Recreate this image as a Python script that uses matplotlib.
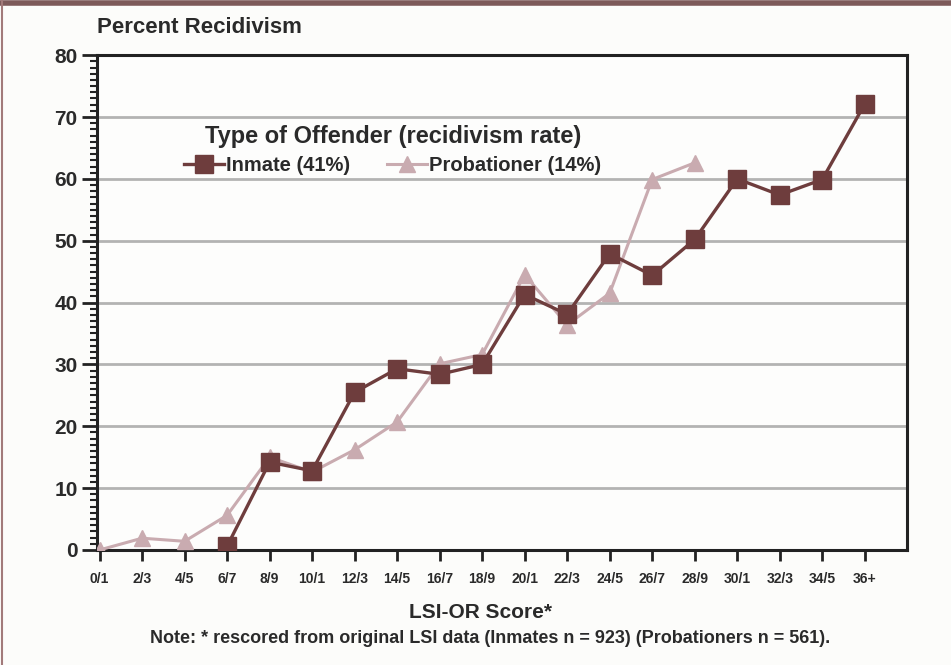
import matplotlib
matplotlib.use("Agg")
import matplotlib.pyplot as plt
from matplotlib import font_manager
from matplotlib.lines import Line2D
from matplotlib.ticker import MultipleLocator

# ---- data ----
categories = ["0/1", "2/3", "4/5", "6/7", "8/9", "10/1", "12/3", "14/5", "16/7",
              "18/9", "20/1", "22/3", "24/5", "26/7", "28/9", "30/1", "32/3",
              "34/5", "36+"]
inmate_cats = categories[3:]
inmate_vals = [0.6, 14.2, 12.8, 25.5, 29.3, 28.4, 30.0, 41.3, 38.1, 47.9,
               44.4, 50.2, 60.0, 57.4, 59.9, 72.1]
prob_cats = categories[:15]
prob_vals = [0.0, 1.9, 1.4, 5.6, 15.0, 12.6, 16.2, 20.7, 30.1, 31.6, 44.5,
             36.4, 41.5, 59.9, 62.6]

inmate_label = "Inmate (41%)"
prob_label = "Probationer (14%)"
legend_title = "Type of Offender (recidivism rate)"
y_title = "Percent Recidivism"
x_title = "LSI-OR Score*"
note = "Note: * rescored from original LSI data (Inmates n = 923) (Probationers n = 561)."

# ---- fonts ----
avail = {f.name for f in font_manager.fontManager.ttflist}
fam = "Liberation Sans Narrow" if "Liberation Sans Narrow" in avail else "Liberation Sans"
plt.rcParams["font.family"] = [fam, "DejaVu Sans"]
plt.rcParams["font.weight"] = "bold"

inmate_c = "#6e3d3d"
prob_c = "#c9abb0"
text_c = "#2a2a2a"

fig = plt.figure(figsize=(9.51, 6.65), dpi=100, facecolor="#fcfcfa")
ax = fig.add_axes([0.102, 0.173, 0.852, 0.744])
ax.set_facecolor("#fdfdfc")

xpos = {c: i for i, c in enumerate(categories)}
ax.plot([xpos[c] for c in prob_cats], prob_vals, color=prob_c, lw=2.2,
        marker="^", markersize=12, zorder=3, label=prob_label)
ax.plot([xpos[c] for c in inmate_cats], inmate_vals, color=inmate_c, lw=2.4,
        marker="s", markersize=13, zorder=4, label=inmate_label)

ax.set_xlim(-0.06, 19.0)
ax.set_ylim(0, 80)
ax.set_xticks(range(len(categories)))
ax.set_xticklabels(categories, fontsize=10, fontweight="bold", color=text_c)
ax.set_yticks(range(0, 81, 10))
ax.set_yticklabels([str(v) for v in range(0, 81, 10)], fontsize=15,
                   fontweight="bold", color=text_c)
ax.yaxis.set_minor_locator(MultipleLocator(1))
ax.tick_params(axis="y", which="major", length=11, width=2, color="#222222", pad=3)
ax.tick_params(axis="y", which="minor", length=5, width=1.5, color="#222222")
ax.tick_params(axis="x", which="major", length=8, width=2, color="#222222", pad=8)

for v in range(10, 80, 10):
    ax.axhline(v, color="#b3b3b3", lw=2, zorder=1)

for s in ax.spines.values():
    s.set_linewidth(2.2)
    s.set_color("#222222")

fig.text(0.102, 0.958, y_title, fontsize=16, fontweight="bold", color=text_c,
         va="center", ha="left")
fig.text(0.505, 0.079, x_title, fontsize=15, fontweight="bold", color=text_c,
         ha="center", va="center")
fig.text(0.515, 0.040, note, fontsize=13, fontweight="bold", color=text_c,
         ha="center", va="center")

handles = [Line2D([], [], color=inmate_c, lw=2.4, marker="s", markersize=13),
           Line2D([], [], color=prob_c, lw=2.2, marker="^", markersize=12)]
leg = ax.legend(handles, [inmate_label, prob_label], ncol=2, frameon=False,
                title=legend_title, loc="center", bbox_to_anchor=(0.365, 0.808),
                prop={"size": 14.5, "weight": "bold"}, handlelength=2.0,
                handletextpad=0.1, columnspacing=1.8, borderpad=0.2,
                labelspacing=0.2)
leg._legend_box.sep = 6
leg.get_title().set_fontsize(17)
leg.get_title().set_fontweight("bold")
leg.get_title().set_color(text_c)
for t in leg.get_texts():
    t.set_color(text_c)

# border decoration
fig.add_artist(Line2D([0, 1], [0.996, 0.996], transform=fig.transFigure,
                      color="#7d5a5a", lw=4))
fig.add_artist(Line2D([0.002, 0.002], [0, 1], transform=fig.transFigure,
                      color="#a27a7a", lw=1.5))

fig.savefig("out.png", dpi=100, facecolor=fig.get_facecolor())
